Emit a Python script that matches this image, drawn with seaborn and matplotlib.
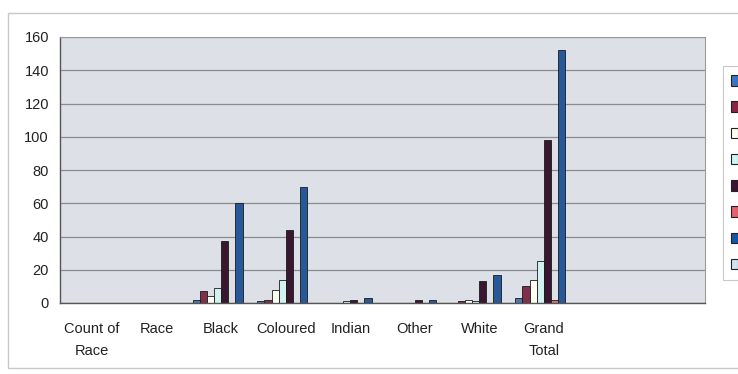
import numpy as np
import pandas as pd
import matplotlib
matplotlib.use("Agg")
import matplotlib.pyplot as plt
from matplotlib.patches import Rectangle, Patch
import seaborn as sns

# categories on the x axis (last two slots are empty in the pivot chart)
categories = ["Count of\nRace", "Race", "Black", "Coloured", "Indian",
              "Other", "White", "Grand\nTotal", "", " "]
series = ["s1", "s2", "s3", "s4", "s5", "s6", "s7", "s8"]

# values per series, one entry per category
s1 = [0, 0, 2, 1, 0, 0, 0, 3, 0, 0]
s2 = [0, 0, 7, 2, 0, 0, 1, 10, 0, 0]
s3 = [0, 0, 4, 8, 0, 0, 2, 14, 0, 0]
s4 = [0, 0, 9, 14, 1, 0, 1, 25, 0, 0]
s5 = [0, 0, 37, 44, 2, 2, 13, 98, 0, 0]
s6 = [0, 0, 0, 0, 0, 0, 0, 2, 0, 0]
s7 = [0, 0, 60, 70, 3, 2, 17, 152, 0, 0]
s8 = [0, 0, 0, 0, 0, 0, 0, 0, 0, 0]

colors = ["#3a74c4", "#8c2244", "#fffff2", "#cff6f6",
          "#3e1232", "#e8606c", "#1456ac", "#cfe3f3"]

rows = []
for name, vals in zip(series, [s1, s2, s3, s4, s5, s6, s7, s8]):
    for cat, v in zip(categories, vals):
        rows.append({"category": cat, "series": name, "count": v})
df = pd.DataFrame(rows)

sns.set_style("white")
plt.rcParams["font.family"] = ["Liberation Sans", "DejaVu Sans"]

fig = plt.figure(figsize=(7.38, 3.74), dpi=100)
ax = fig.add_axes([60 / 738, 71 / 374, 645 / 738, 266 / 374])

# outer chart border
fig.patches.append(Rectangle((8 / 738, 6 / 374), 740 / 738, 355 / 374,
                             transform=fig.transFigure, fill=False,
                             edgecolor="#c8c8c8", linewidth=1.0))

sns.barplot(data=df, x="category", y="count", hue="series", order=categories,
            hue_order=series, palette=colors, width=0.88, edgecolor="#1a1a1a",
            linewidth=0.6, legend=False, ax=ax)

ax.set_facecolor("#dde0e7")
ax.set_ylim(0, 160)
ax.set_xlim(-0.5, len(categories) - 0.5)
ax.set_yticks(np.arange(0, 161, 20))
ax.yaxis.grid(True, color="#8c8c8c", linewidth=0.9)
ax.set_axisbelow(True)
ax.set_xlabel("")
ax.set_ylabel("")
ax.set_xticks(range(len(categories)))
ax.set_xticklabels(categories, linespacing=1.7)
ax.set_xticks(np.arange(-0.5, len(categories), 1), minor=True)
ax.tick_params(axis="x", which="major", length=0, labelsize=10.5, pad=14,
               colors="#222222")
ax.tick_params(axis="x", which="minor", length=4, color="#777777", direction="out")
ax.tick_params(axis="y", length=4, labelsize=10.5, color="#777777",
               colors="#222222", pad=4)
for side in ["left", "bottom"]:
    ax.spines[side].set_color("#555555")
    ax.spines[side].set_linewidth(1.0)
for side in ["top", "right"]:
    ax.spines[side].set_color("#9a9a9a")
    ax.spines[side].set_linewidth(0.8)

# legend (its labels fall outside the cropped picture)
handles = [Patch(facecolor=c, edgecolor="#222222", linewidth=0.8) for c in colors]
leg = fig.legend(handles, [""] * len(series), loc="upper left",
                 bbox_to_anchor=(723 / 738, 1 - 66 / 374), frameon=True,
                 handlelength=0.5, handleheight=0.8, labelspacing=0.88,
                 borderpad=0.6, borderaxespad=0, handletextpad=0.3,
                 fontsize=10, fancybox=False)
leg.get_frame().set_edgecolor("#bbbbbb")
leg.get_frame().set_linewidth(0.8)

fig.savefig("out.png", dpi=100)
